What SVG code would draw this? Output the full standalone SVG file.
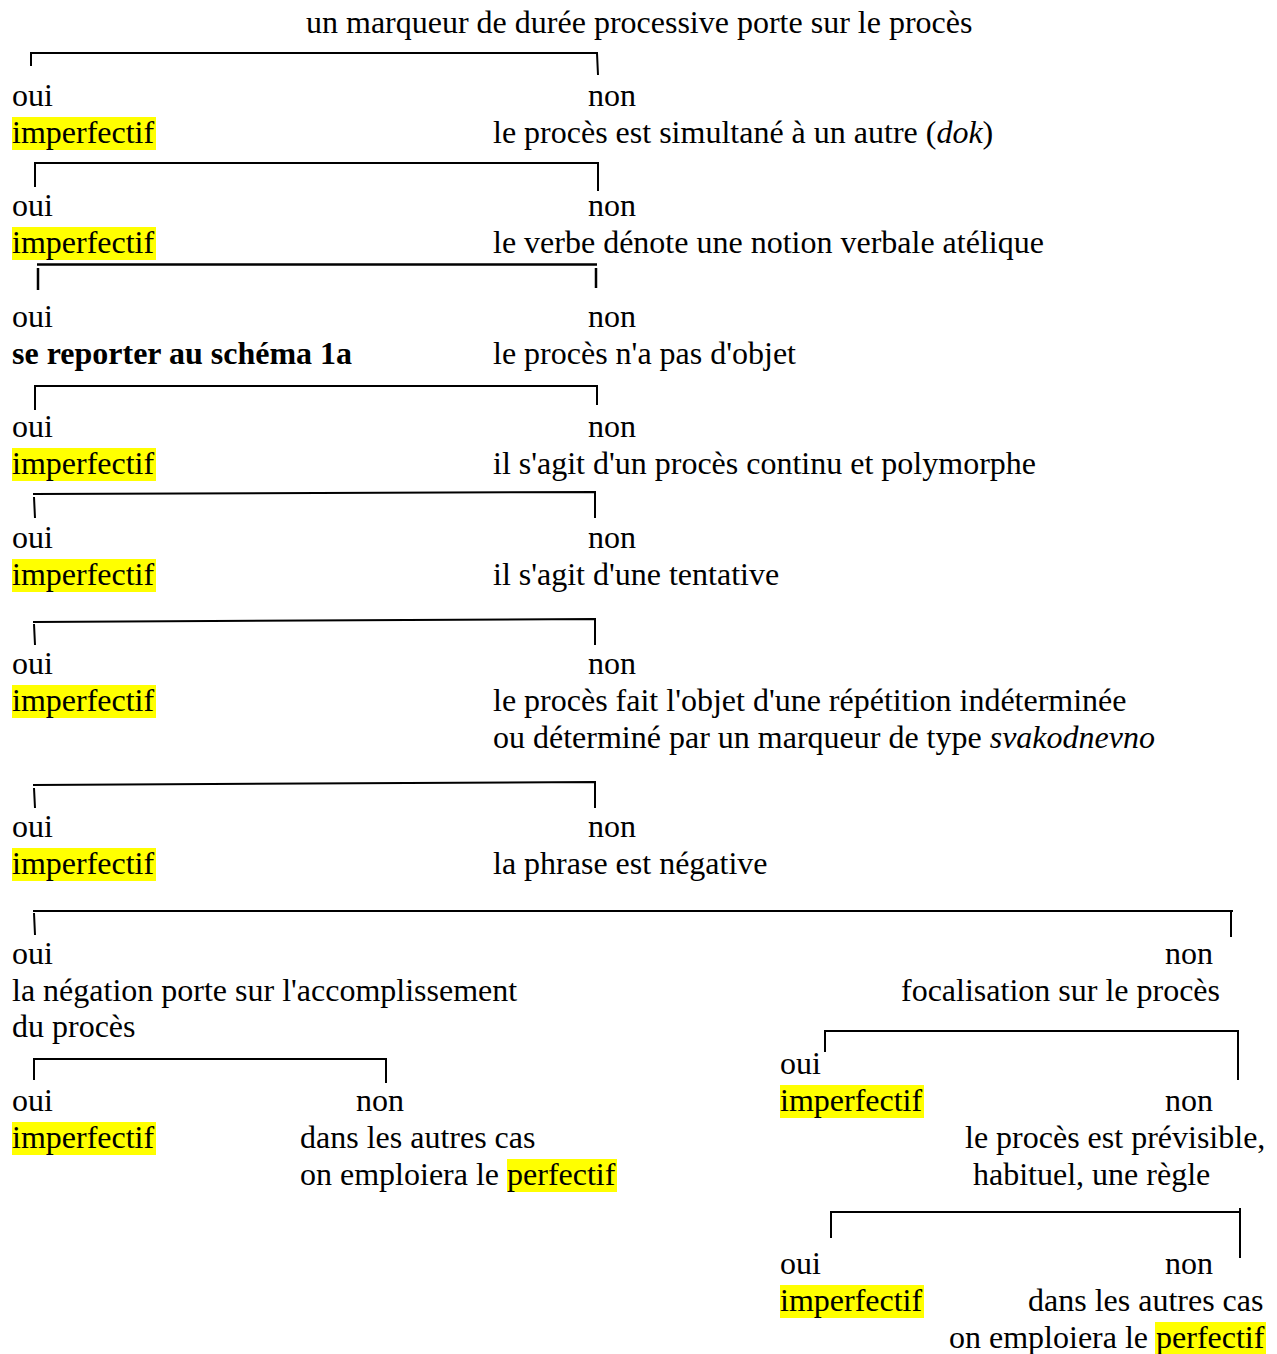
<svg xmlns="http://www.w3.org/2000/svg" width="1277" height="1354" viewBox="0 0 1277 1354">
<style>
text{font-family:"Liberation Serif","Times New Roman",serif;font-size:32px;fill:#000}
.b{font-weight:bold}
.hl{fill:#ffff00}
.br{fill:none;stroke:#000;stroke-width:2}
</style>
<rect width="1277" height="1354" fill="#fff"/>
<g id="connectors">
<path class="br" d="M31,66 V53 H597 L598,75"/>
<path class="br" d="M35,187 V163 H598 V191"/>
<path class="br" d="M38,290 V268 M37,264.5 H597 M596,268 V288" style="stroke-width:2.5"/>
<path class="br" d="M35,410 V386 H597 V405"/>
<path class="br" d="M35,518 L34,497 M33,494 L595,492 V518"/>
<path class="br" d="M35,645 L34,624 M33,622 L595,619 V645"/>
<path class="br" d="M35,808 L34,788 M33,785 L595,782 V808"/>
<path class="br" d="M35,935 L34,913 M33,911 H1233 M1231,911 V937"/>
<path class="br" d="M34,1080 V1059 H386 V1083"/>
<path class="br" d="M825,1052 V1031 H1239 M1238,1031 V1080"/>
<path class="br" d="M831,1238 V1212 H1241 M1240,1208 V1258"/>
</g>
<g transform="translate(0,1)">
<g id="n0"><text x="306" y="32">un marqueur de durée processive porte sur le procès</text></g>
<g id="n1"><text x="12" y="105">oui</text><rect class="hl" x="12" y="116" width="144" height="33"/><text x="12" y="142">imperfectif</text></g>
<g id="n2"><text x="588" y="105">non</text><text x="493" y="142">le procès est simultané à un autre (<tspan font-style="italic">dok</tspan>)</text></g>
<g id="n3"><text x="12" y="215">oui</text><rect class="hl" x="12" y="226" width="144" height="33"/><text x="12" y="252">imperfectif</text></g>
<g id="n4"><text x="588" y="215">non</text><text x="493" y="252">le verbe dénote une notion verbale atélique</text></g>
<g id="n5"><text x="12" y="326">oui</text><text class="b" x="12" y="363">se reporter au schéma 1a</text></g>
<g id="n6"><text x="588" y="326">non</text><text x="493" y="363">le procès n'a pas d'objet</text></g>
<g id="n7"><text x="12" y="436">oui</text><rect class="hl" x="12" y="447" width="144" height="33"/><text x="12" y="473">imperfectif</text></g>
<g id="n8"><text x="588" y="436">non</text><text x="493" y="473">il s'agit d'un procès continu et polymorphe</text></g>
<g id="n9"><text x="12" y="547">oui</text><rect class="hl" x="12" y="558" width="144" height="33"/><text x="12" y="584">imperfectif</text></g>
<g id="n10"><text x="588" y="547">non</text><text x="493" y="584">il s'agit d'une tentative</text></g>
<g id="n11"><text x="12" y="673">oui</text><rect class="hl" x="12" y="684" width="144" height="33"/><text x="12" y="710">imperfectif</text></g>
<g id="n12"><text x="588" y="673">non</text><text x="493" y="710">le procès fait l'objet d'une répétition indéterminée</text><text x="493" y="747">ou déterminé par un marqueur de type <tspan font-style="italic">svakodnevno</tspan></text></g>
<g id="n13"><text x="12" y="836">oui</text><rect class="hl" x="12" y="847" width="144" height="33"/><text x="12" y="873">imperfectif</text></g>
<g id="n14"><text x="588" y="836">non</text><text x="493" y="873">la phrase est négative</text></g>
<g id="n15"><text x="12" y="963">oui</text><text x="12" y="1000">la négation porte sur l'accomplissement</text><text x="12" y="1036">du procès</text></g>
<g id="n16"><text x="1165" y="963">non</text><text x="901" y="1000">focalisation sur le procès</text></g>
<g id="n17"><text x="12" y="1110">oui</text><rect class="hl" x="12" y="1121" width="144" height="33"/><text x="12" y="1147">imperfectif</text></g>
<g id="n18"><text x="356" y="1110">non</text><text x="300" y="1147">dans les autres cas</text><rect class="hl" x="507" y="1158" width="110" height="33"/><text x="300" y="1184">on emploiera le perfectif</text></g>
<g id="n19"><text x="780" y="1073">oui</text><rect class="hl" x="780" y="1084" width="144" height="33"/><text x="780" y="1110">imperfectif</text></g>
<g id="n20"><text x="1165" y="1110">non</text><text x="965" y="1147">le procès est prévisible,</text><text x="973" y="1184">habituel, une règle</text></g>
<g id="n21"><text x="780" y="1273">oui</text><rect class="hl" x="780" y="1284" width="144" height="33"/><text x="780" y="1310">imperfectif</text></g>
<g id="n22"><text x="1165" y="1273">non</text><text x="1028" y="1310">dans les autres cas</text><rect class="hl" x="1155" y="1321" width="111" height="32"/><text x="949" y="1347">on emploiera le perfectif</text></g>
</g>
</svg>
